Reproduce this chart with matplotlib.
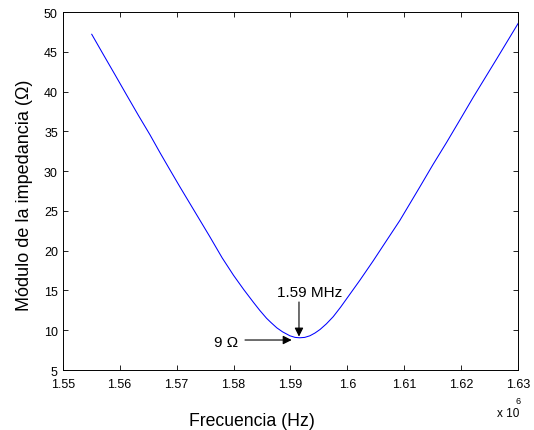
import numpy as np
import matplotlib
matplotlib.use('Agg')
import matplotlib.pyplot as plt
from matplotlib.ticker import FuncFormatter

plt.rcParams['font.family'] = ['Liberation Sans', 'DejaVu Sans']

# frequency in units of 1e6 Hz, impedance modulus in ohm
freq = [1.5551, 1.5571, 1.5592, 1.5612, 1.5633, 1.5653, 1.5671, 1.5688,
        1.5706, 1.5732, 1.5758, 1.5780, 1.5800, 1.5818, 1.5835, 1.5846,
        1.5858, 1.5866, 1.5876, 1.5886, 1.5899, 1.5908, 1.5916, 1.5925,
        1.5934, 1.5943, 1.5952, 1.5963, 1.5975, 1.5988, 1.6000, 1.6022,
        1.6045, 1.6068, 1.6092, 1.6127, 1.6150, 1.6174, 1.6198, 1.6221,
        1.6262, 1.6300]
zmod = [47.2, 44.7, 42.1, 39.6, 37.0, 34.6, 32.3, 30.2,
        28.0, 24.9, 21.8, 19.1, 16.9, 15.1, 13.5, 12.5,
        11.5, 10.95, 10.3, 9.8, 9.3, 9.1, 9.05, 9.1,
        9.3, 9.65, 10.1, 10.8, 11.7, 12.9, 14.1, 16.3,
        18.7, 21.2, 23.8, 28.0, 30.8, 33.6, 36.5, 39.3,
        44.1, 48.6]

xticks = [1.55, 1.56, 1.57, 1.58, 1.59, 1.60, 1.61, 1.62, 1.63]
yticks = [5, 10, 15, 20, 25, 30, 35, 40, 45, 50]

fig = plt.figure(figsize=(5.34, 4.31), dpi=100)
ax = fig.add_axes([0.1174, 0.1392, 0.8532, 0.8306])

ax.plot(freq, zmod, color='#0000ff', lw=0.75)

ax.set_xlim(1.55, 1.63)
ax.set_ylim(5, 50)
ax.set_xticks(xticks)
ax.set_yticks(yticks)
ax.xaxis.set_major_formatter(FuncFormatter(lambda v, p: '%g' % round(v, 2)))
ax.tick_params(direction='in', length=3.6, width=0.6, top=True, right=True,
               labelsize=9)
ax.tick_params(axis='x', pad=6)
ax.tick_params(axis='y', pad=3.5)
for s in ax.spines.values():
    s.set_linewidth(0.7)

# annotations
ax.annotate('', xy=(1.59149, 9.20), xytext=(1.59149, 13.55),
            arrowprops=dict(arrowstyle='-|>', color='k', lw=0.8,
                            mutation_scale=13, shrinkA=0, shrinkB=0))
ax.text(1.59342, 14.84, '1.59 MHz', fontsize=11, ha='center', va='center')
ax.annotate('', xy=(1.59021, 8.77), xytext=(1.58201, 8.77),
            arrowprops=dict(arrowstyle='-|>', color='k', lw=0.8,
                            mutation_scale=13, shrinkA=0, shrinkB=0))
ax.text(1.57876, 8.56, '9 \u03a9', fontsize=11, ha='center', va='center')

fig.text(252 / 534, 1 - 426 / 431, 'Frecuencia (Hz)', fontsize=12.7,
         ha='center', va='baseline')
fig.text(25 / 534, 1 - 195 / 431, 'Módulo de la impedancia (\u03a9)',
         fontsize=13, rotation=90, ha='center', va='center')
fig.text(497 / 534, 1 - 417 / 431, 'x 10', fontsize=8.5, ha='left',
         va='baseline')
fig.text(515 / 534, 1 - 404 / 431, '6', fontsize=6.5, ha='left',
         va='baseline')

fig.savefig('out.png', dpi=100)
